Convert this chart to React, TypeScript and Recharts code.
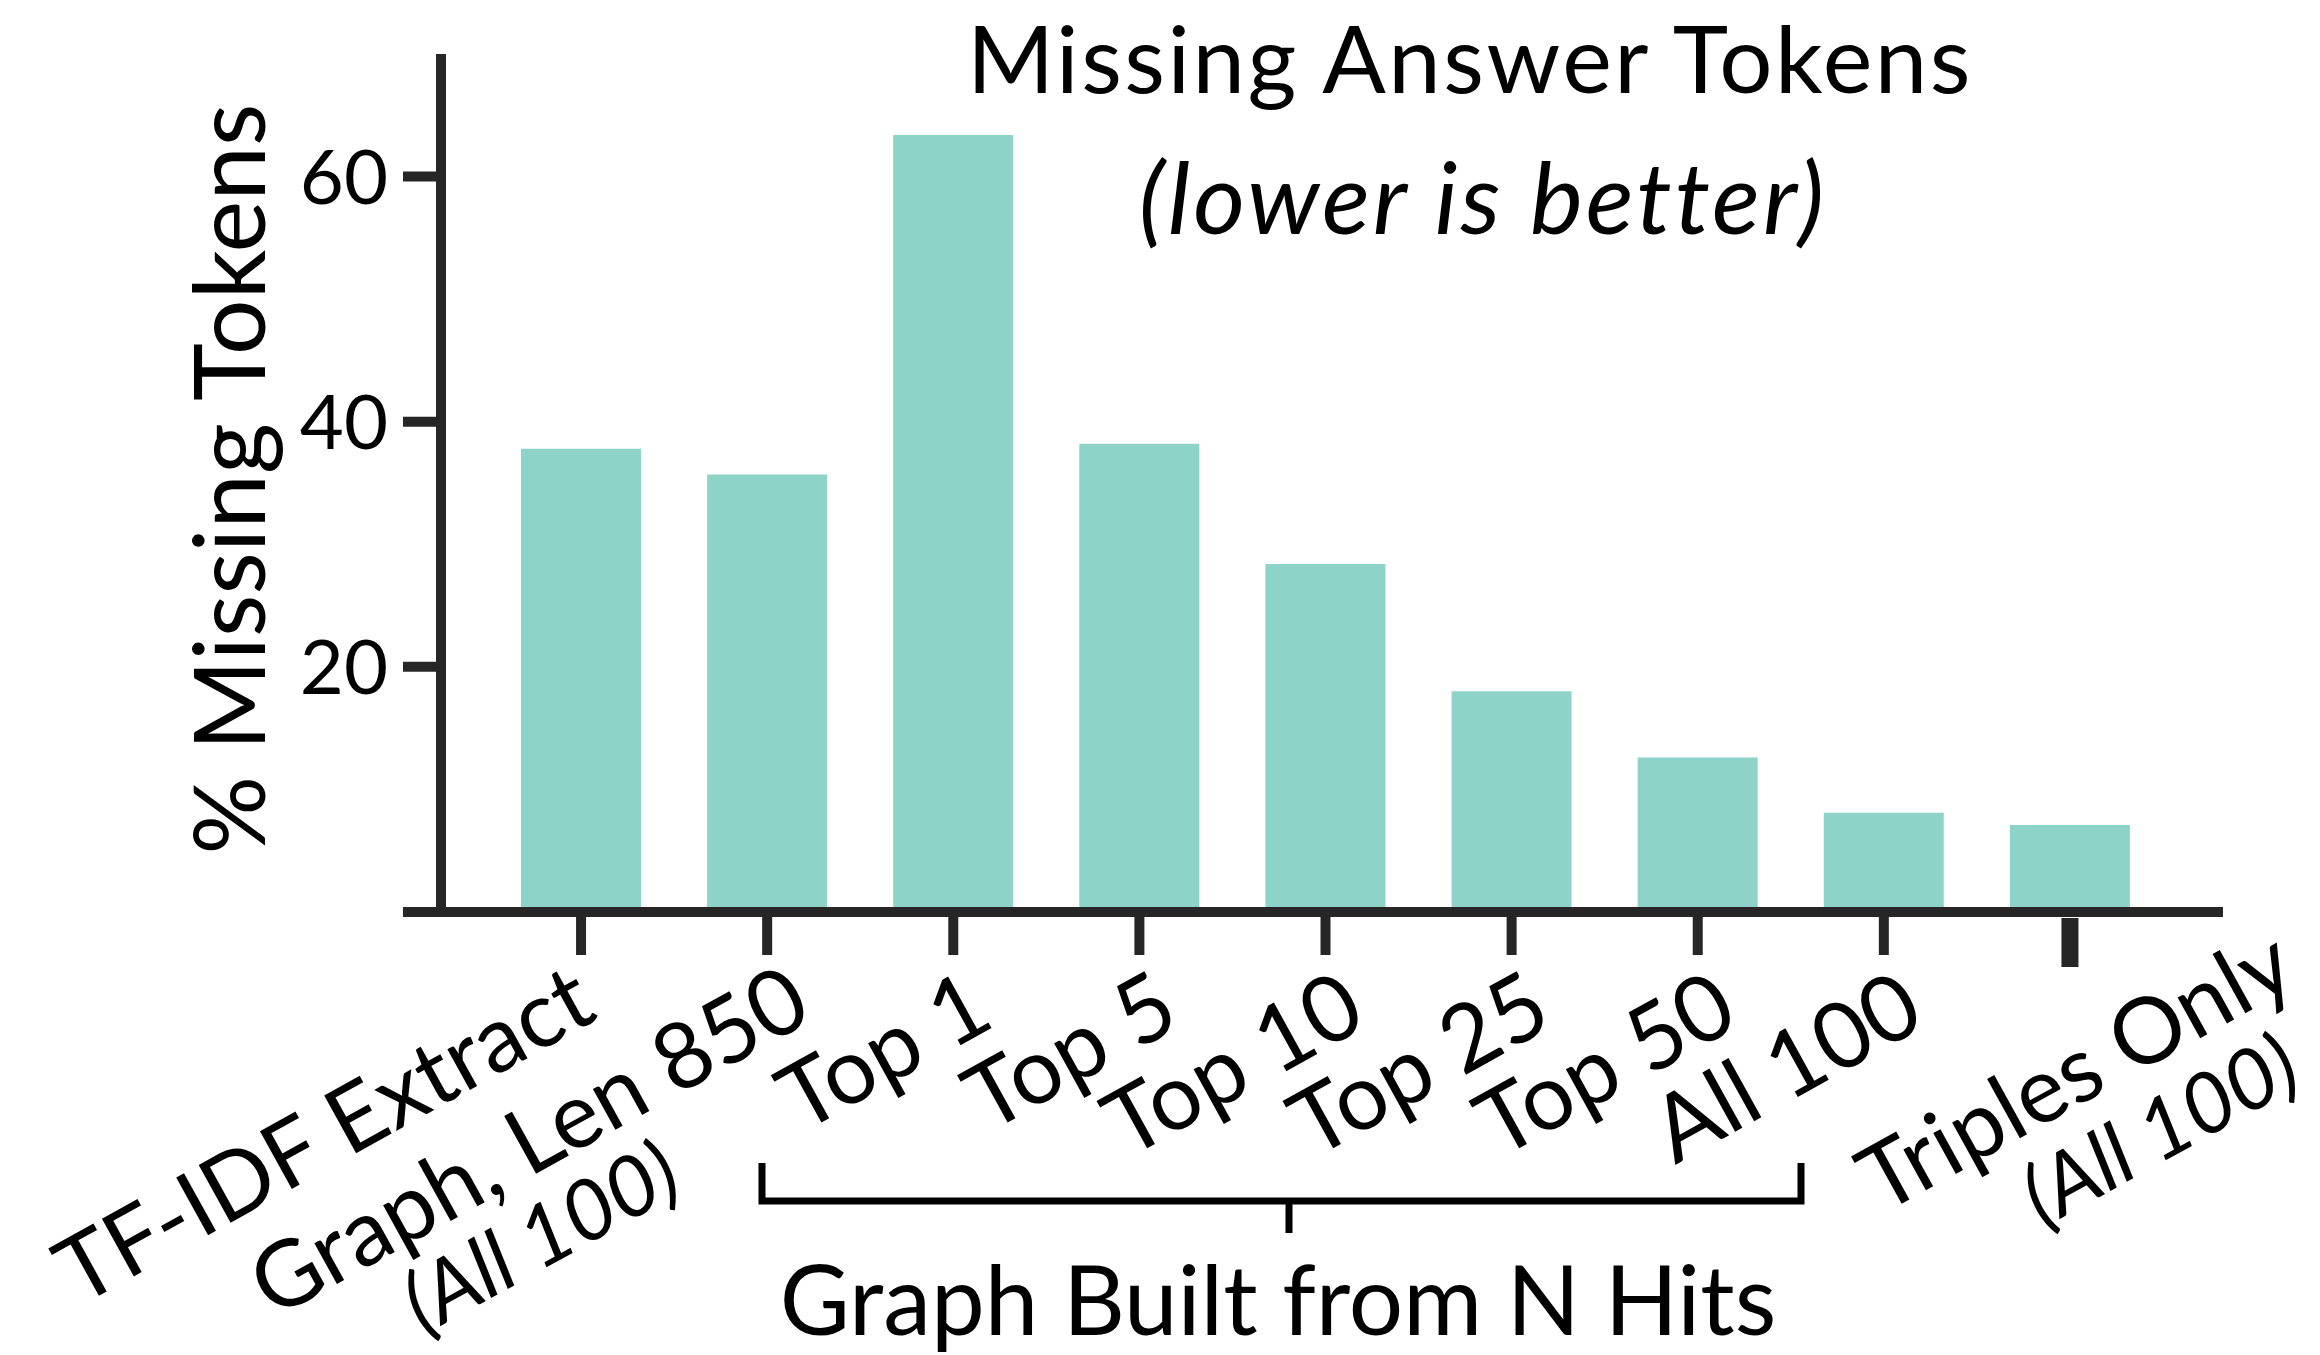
import React from 'react';
import { BarChart, Bar, XAxis, YAxis, Customized } from 'recharts';

const categories = ['TF-IDF Extract', 'Graph, Len 850', 'Top 1', 'Top 5', 'Top 10', 'Top 25', 'Top 50', 'All 100', 'Triples Only'];
const subLabels = ['', '(All 100)', '', '', '', '', '', '', '(All 100)'];
const missingPct = [37.8, 35.7, 63.4, 38.2, 28.4, 18.0, 12.6, 8.1, 7.1];
const yTicks = [0, 20, 40, 60];

const title = 'Missing Answer Tokens';
const subtitle = '(lower is better)';
const yLabel = '% Missing Tokens';
const groupLabel = 'Graph Built from N Hits';

const W = 2320;
const H = 1355;
const AXIS_X = 441;
const AXIS_Y = 912;
const TOP = 54;
const RIGHT = 2223;

const BAR = '#8ed3c7';
const INK = '#262626';
const FONT = 'Lato, "Open Sans", sans-serif';
const ANGLE = -29;
const LABEL_SIZE = 92;
const SUB_SIZE = 84;

const data = categories.map((name, i) => ({ name, sub: subLabels[i], value: missingPct[i] }));

// where each rotated label ends, relative to its tick (rough hand placement in the original)
function labelEnd(i: number) {
  if (i === 0) return { dx: 19, dy: 106 };
  if (i === 1) return { dx: 48, dy: 107 };
  if (i === categories.length - 1) return { dx: 230, dy: 71 };
  return { dx: 44, dy: 113 };
}
function subShift(i: number) {
  if (i === categories.length - 1) return { along: -44, perp: 90 };
  return { along: -196, perp: 87 };
}

function XTick(props: any) {
  const { x, payload, index } = props;
  const d = data[index];
  const last = index === categories.length - 1;
  const end = labelEnd(index);
  const ex = x + end.dx;
  const ey = AXIS_Y + end.dy;
  const s = subShift(index);
  return (
    <g>
      <line
        x1={x} x2={x}
        y1={last ? 918 : AXIS_Y + 5} y2={last ? 967 : 955}
        stroke={INK} strokeWidth={last ? 17 : 10}
      />
      <g transform={`translate(${ex},${ey}) rotate(${ANGLE})`}>
        <text x={0} y={0} textAnchor="end" fontSize={LABEL_SIZE} fontFamily={FONT} fill="#000">
          {payload.value}
        </text>
        {d.sub ? (
          <text x={s.along} y={s.perp} textAnchor="end" fontSize={SUB_SIZE} fontStyle="italic" fontFamily={FONT} fill="#000">
            {d.sub}
          </text>
        ) : null}
      </g>
    </g>
  );
}

function YTick(props: any) {
  const { x, y, payload } = props;
  if (payload.value === 0) return null;
  return (
    <text x={x} y={y} dy={27} textAnchor="end" fontSize={76} fontFamily={FONT} fill="#000">
      {payload.value}
    </text>
  );
}

function Annotations() {
  return (
    <g fontFamily={FONT} fill="#000">
      <text x={1470} y={93} textAnchor="middle" fontSize={94} letterSpacing={2.5}>{title}</text>
      <text x={1483} y={234} textAnchor="middle" fontSize={100} letterSpacing={3} fontStyle="italic">{subtitle}</text>
      <text x={265} y={479} textAnchor="middle" fontSize={98} transform="rotate(-90 265 479)">{yLabel}</text>
      <path d="M762,1163 L762,1201 L1801,1201 L1801,1163 M1289,1201 L1289,1233" fill="none" stroke="#000" strokeWidth={7} />
      <text x={1278} y={1335} textAnchor="middle" fontSize={96}>{groupLabel}</text>
    </g>
  );
}

export default function App() {
  return (
    <div style={{ position: 'absolute', left: 0, top: 0, width: W, height: H, background: '#fff' }}>
      <BarChart
        width={W}
        height={H}
        data={data}
        margin={{ top: TOP, right: W - RIGHT, bottom: 0, left: 0 }}
      >
        <XAxis
          dataKey="name"
          interval={0}
          height={H - AXIS_Y}
          padding={{ left: 47, right: 60 }}
          axisLine={{ stroke: INK, strokeWidth: 10 }}
          tickLine={false}
          tick={<XTick />}
        />
        <YAxis
          width={AXIS_X}
          domain={[0, 70]}
          ticks={yTicks}
          interval={0}
          tickSize={38}
          tickMargin={15}
          axisLine={{ stroke: INK, strokeWidth: 10 }}
          tickLine={{ stroke: INK, strokeWidth: 10 }}
          tick={<YTick />}
        />
        <Bar dataKey="value" fill={BAR} barSize={120} isAnimationActive={false} />
        <Customized component={Annotations} />
      </BarChart>
    </div>
  );
}
